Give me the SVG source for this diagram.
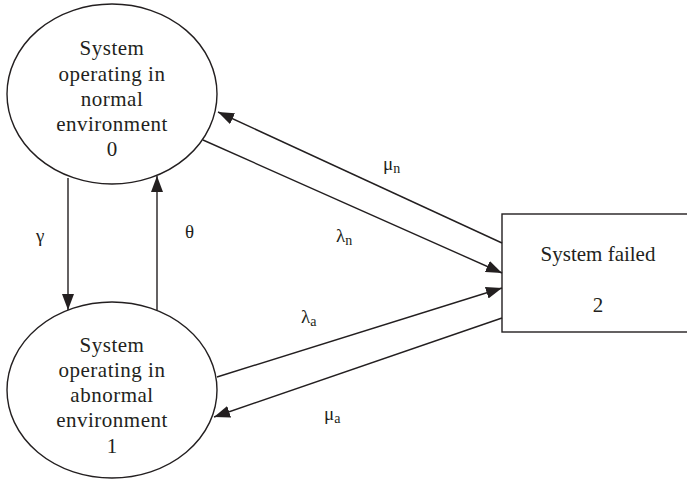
<svg xmlns="http://www.w3.org/2000/svg" width="687" height="482" viewBox="0 0 687 482">
  <style>
    .shape { fill: #fff; stroke: #231f20; stroke-width: 1.4; }
    .edge { fill: none; stroke: #231f20; stroke-width: 1.4; marker-end: url(#arrow); }
    .lbl { font-family: "Liberation Serif", "DejaVu Serif", serif; font-size: 21px; fill: #231f20; text-anchor: middle; }
    .wide { letter-spacing: 0.5px; }
    .rate { font-family: "Liberation Serif", "DejaVu Serif", serif; font-size: 19px; fill: #231f20; }
    .sub { font-size: 14px; }
  </style>
  <defs>
    <marker id="arrow" markerUnits="userSpaceOnUse" markerWidth="16" markerHeight="12" viewBox="0 0 16 12" refX="16" refY="6" orient="auto">
      <path d="M0,0 L16,6 L0,12 Z" fill="#231f20"/>
    </marker>
  </defs>

  <!-- state 0: normal environment -->
  <g id="state0">
    <ellipse class="shape" cx="112" cy="94" rx="105" ry="90"/>
    <text class="lbl wide" x="112" y="55">System</text>
    <text class="lbl wide" x="112" y="81">operating in</text>
    <text class="lbl wide" x="112" y="106">normal</text>
    <text class="lbl wide" x="112" y="131">environment</text>
    <text class="lbl" x="112" y="156">0</text>
  </g>

  <!-- state 1: abnormal environment -->
  <g id="state1">
    <ellipse class="shape" cx="112" cy="390" rx="105" ry="88"/>
    <text class="lbl wide" x="112" y="352">System</text>
    <text class="lbl wide" x="112" y="377">operating in</text>
    <text class="lbl wide" x="112" y="402">abnormal</text>
    <text class="lbl wide" x="112" y="427">environment</text>
    <text class="lbl" x="112" y="453">1</text>
  </g>

  <!-- state 2: failed -->
  <g id="state2">
    <rect class="shape" x="502" y="214" width="200" height="118"/>
    <text class="lbl" x="598" y="261">System failed</text>
    <text class="lbl" x="598" y="312">2</text>
  </g>

  <!-- transitions -->
  <g id="connectors">
    <line class="edge" x1="68" y1="178" x2="68" y2="310"/>
    <line class="edge" x1="157" y1="310" x2="157" y2="176"/>
    <line class="edge" x1="502" y1="243" x2="218" y2="112"/>
    <line class="edge" x1="203" y1="140" x2="502" y2="273"/>
    <line class="edge" x1="217" y1="377" x2="502" y2="288"/>
    <line class="edge" x1="502" y1="318" x2="214" y2="417"/>
  </g>

  <!-- rate labels -->
  <g id="rates">
    <text class="rate" x="36" y="242">γ</text>
    <text class="rate" x="185" y="238">θ</text>
    <text class="rate" x="383" y="170">μ<tspan class="sub" dy="3">n</tspan></text>
    <text class="rate" x="336" y="242">λ<tspan class="sub" dy="3">n</tspan></text>
    <text class="rate" x="301" y="323">λ<tspan class="sub" dy="3">a</tspan></text>
    <text class="rate" x="324" y="420">μ<tspan class="sub" dy="3">a</tspan></text>
  </g>
</svg>
